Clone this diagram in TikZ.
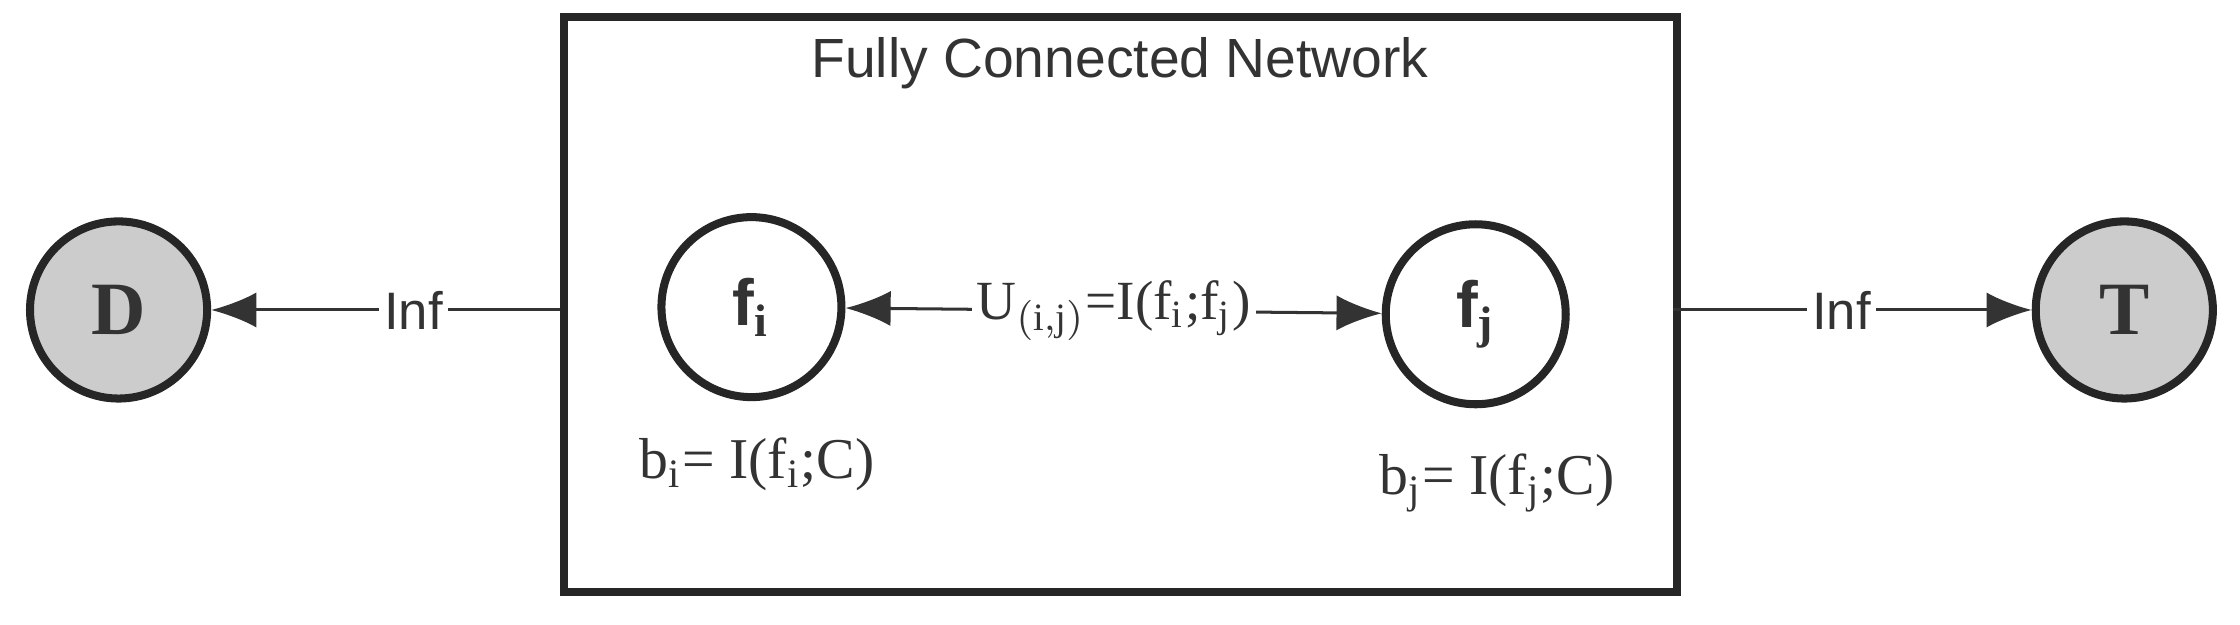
\documentclass[tikz,border=0pt]{standalone}
\usepackage{fontspec}
\setmainfont{Liberation Serif}
\newfontfamily\sans{Liberation Sans}
\usetikzlibrary{arrows.meta}
\begin{document}
\begin{tikzpicture}[
  every node/.style={text=black!80},
  term/.style={draw=black!85,circle,line width=1.6pt,fill=black!20,minimum size=1.24cm,inner sep=0pt,font=\fontsize{15}{15}\selectfont\bfseries},
  feat/.style={draw=black!85,circle,line width=1.6pt,fill=white,minimum size=1.26cm,inner sep=0pt,font=\sans\fontsize{13}{13}\selectfont\bfseries},
  arr/.style={-{Latex[length=9pt,width=7pt]},line width=0.6pt,draw=black!80},
  lbl/.style={fill=white,inner sep=1pt,font=\sans\fontsize{10.5}{10.5}\selectfont}
]
\useasboundingbox (0,0) rectangle (15.68,4.37);
\node[draw=black!85,line width=1.6pt,minimum width=7.79cm,minimum height=4.02cm,anchor=south west] (net) at (3.92,0.20) {};
\node[font=\sans\fontsize{11}{11}\selectfont] (title) at (7.84,3.93) {Fully Connected Network};
\node[term] (D) at (0.83,2.20) {D};
\node[term] (T) at (14.87,2.20) {T};
\node[feat] (fi) at (5.26,2.22) {f$_\mathbf{i}$};
\node[feat] (fj) at (10.33,2.17) {f$_\mathbf{j}$};
\node[font=\fontsize{11.5}{11.5}\selectfont] (bi) at (5.30,1.12) {b$_\mathrm{i}$= I(f$_\mathrm{i}$;C)};
\node[font=\fontsize{11.5}{11.5}\selectfont] (bj) at (10.48,0.99) {b$_\mathrm{j}$= I(f$_\mathrm{j}$;C)};
\coordinate (nl) at (3.92,2.20);
\coordinate (nr) at (11.71,2.20);
\draw[arr] (nl) -- node[lbl,pos=0.42]{Inf} (D);
\draw[arr] (nr) -- node[lbl,pos=0.47]{Inf} (T);
\draw[arr,{Latex[length=9pt,width=7pt]}-{Latex[length=9pt,width=7pt]}] (fi) -- node[lbl,font=\fontsize{11}{11}\selectfont]{U$_{\mathrm{(i,j)}}$=I(f$_\mathrm{i}$;f$_\mathrm{j}$)} (fj);
\end{tikzpicture}
\end{document}
